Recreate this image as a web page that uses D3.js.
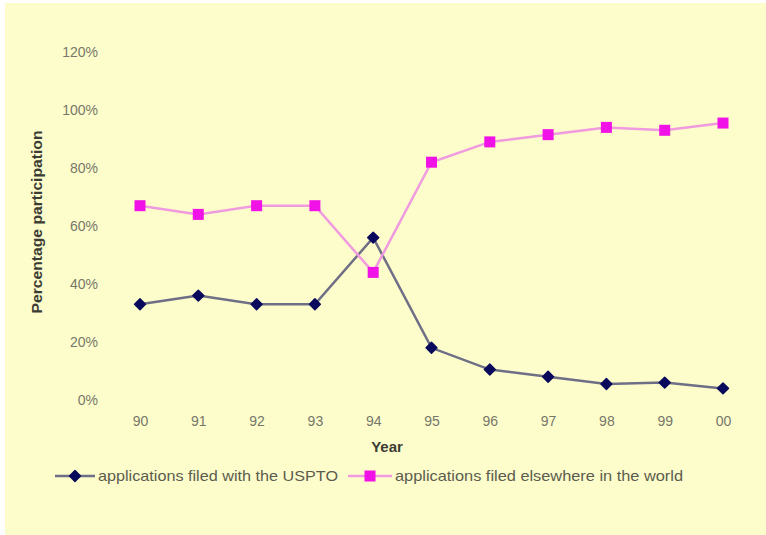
<!DOCTYPE html>
<html>
  <head>
    <meta charset="utf-8" />
    <script src="https://d3js.org/d3.v7.min.js"></script>
    <style>
      body { margin: 0; background: #fff; }
      svg { display: block; font-family: "Liberation Sans", Arial, sans-serif; }
    </style>
  </head>
  <body>
    <script>
      // chart data
      const years = ["90", "91", "92", "93", "94", "95", "96", "97", "98", "99", "00"];
      const usptoValues = [33, 36, 33, 33, 56, 18, 10.5, 8, 5.5, 6, 4];
      const elsewhereValues = [67, 64, 67, 67, 44, 82, 89, 91.5, 94, 93, 95.5];
      const yTicks = [0, 20, 40, 60, 80, 100, 120];
      const seriesNames = ["applications filed with the USPTO", "applications filed elsewhere in the world"];

      const width = 766, height = 535;

      const svg = d3.select("body").append("svg")
        .attr("width", width)
        .attr("height", height);

      // yellow panel with a thin white edge top/left
      svg.append("rect")
        .attr("x", 5).attr("y", 3)
        .attr("width", width - 5).attr("height", height - 3)
        .attr("fill", "#fdfdcb");

      const x = d3.scalePoint()
        .domain(years)
        .range([140, 723]);

      const y = d3.scaleLinear()
        .domain([0, 120])
        .range([400, 52]);

      const tickColor = "#77776a";
      const titleColor = "#3c3c34";
      const navy = "#0a0a5c", navyLine = "#6e6e86";
      const pink = "#f012e6", pinkLine = "#f09ae0";

      // y tick labels (no axis line in the picture)
      const yAxis = svg.append("g")
        .attr("transform", "translate(98,0)")
        .call(d3.axisLeft(y).tickValues(yTicks).tickSize(0).tickPadding(0).tickFormat(d => d + "%"));
      yAxis.select(".domain").remove();
      yAxis.selectAll("text")
        .attr("fill", tickColor)
        .attr("font-size", 14)
        .attr("font-family", "'Liberation Sans', Arial, sans-serif");

      // x tick labels
      const xAxis = svg.append("g")
        .attr("transform", "translate(0,416)")
        .call(d3.axisBottom(x).tickSize(0).tickPadding(0));
      xAxis.select(".domain").remove();
      xAxis.selectAll("text")
        .attr("fill", tickColor)
        .attr("font-size", 14)
        .attr("font-family", "'Liberation Sans', Arial, sans-serif");

      // axis titles
      svg.append("text")
        .attr("x", 387).attr("y", 452)
        .attr("text-anchor", "middle")
        .attr("font-size", 15)
        .attr("font-weight", "bold")
        .attr("fill", titleColor)
        .text("Year");

      svg.append("text")
        .attr("transform", "translate(42,222) rotate(-90)")
        .attr("text-anchor", "middle")
        .attr("font-size", 15)
        .attr("font-weight", "bold")
        .attr("fill", titleColor)
        .attr("textLength", 183)
        .attr("lengthAdjust", "spacingAndGlyphs")
        .text("Percentage participation");

      const line = d3.line()
        .x((d, i) => x(years[i]))
        .y(d => y(d));

      // USPTO series
      svg.append("path")
        .datum(usptoValues)
        .attr("d", line)
        .attr("fill", "none")
        .attr("stroke", navyLine)
        .attr("stroke-width", 2.5);

      const diamond = d3.symbol().type(d3.symbolDiamond2).size(75);
      svg.selectAll(".uspto")
        .data(usptoValues)
        .join("path")
        .attr("class", "uspto")
        .attr("d", diamond)
        .attr("transform", (d, i) => `translate(${x(years[i])},${y(d)})`)
        .attr("fill", navy)
        .attr("stroke", navy)
        .attr("stroke-width", 1.5)
        .attr("stroke-linejoin", "round");

      // elsewhere series
      svg.append("path")
        .datum(elsewhereValues)
        .attr("d", line)
        .attr("fill", "none")
        .attr("stroke", pinkLine)
        .attr("stroke-width", 2.5);

      svg.selectAll(".elsewhere")
        .data(elsewhereValues)
        .join("rect")
        .attr("class", "elsewhere")
        .attr("x", (d, i) => x(years[i]) - 5.5)
        .attr("y", d => y(d) - 5.5)
        .attr("width", 11)
        .attr("height", 11)
        .attr("fill", pink);

      // legend
      const legend = svg.append("g").attr("transform", "translate(0,476)");

      legend.append("line")
        .attr("x1", 55).attr("x2", 95)
        .attr("stroke", navyLine).attr("stroke-width", 2.5);
      legend.append("path")
        .attr("d", diamond)
        .attr("transform", "translate(75,0)")
        .attr("fill", navy)
        .attr("stroke", navy)
        .attr("stroke-width", 1.5)
        .attr("stroke-linejoin", "round");
      legend.append("text")
        .attr("x", 98).attr("y", 5)
        .attr("font-size", 15)
        .attr("fill", "#5c5c4e")
        .attr("textLength", 240)
        .attr("lengthAdjust", "spacingAndGlyphs")
        .text(seriesNames[0]);

      legend.append("line")
        .attr("x1", 348).attr("x2", 392)
        .attr("stroke", pinkLine).attr("stroke-width", 2.5);
      legend.append("rect")
        .attr("x", 364.5).attr("y", -5.5)
        .attr("width", 11).attr("height", 11)
        .attr("fill", pink);
      legend.append("text")
        .attr("x", 395).attr("y", 5)
        .attr("font-size", 15)
        .attr("fill", "#5c5c4e")
        .attr("textLength", 288)
        .attr("lengthAdjust", "spacingAndGlyphs")
        .text(seriesNames[1]);
    </script>
  </body>
</html>
